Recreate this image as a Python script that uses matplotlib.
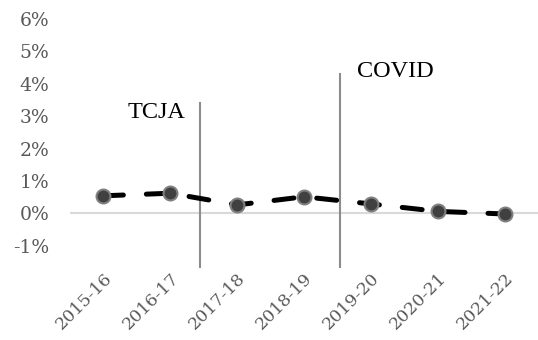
import numpy as np
import matplotlib.pyplot as plt

years = ["2015-16", "2016-17", "2017-18", "2018-19", "2019-20", "2020-21", "2021-22"]
rate = [0.54, 0.62, 0.26, 0.51, 0.29, 0.06, -0.02]
y_ticks = [-1, 0, 1, 2, 3, 4, 5, 6]

# event markers: (label, x position between categories, top of line, label position)
events = [("TCJA", 1.45, 3.41, (0.36, 2.94)),
          ("COVID", 3.54, 4.31, (3.79, 4.21))]

fig = plt.figure(figsize=(5.38, 3.4), dpi=100)
ax = fig.add_axes([0.13, 0.2106, 0.87, 0.7624])

x = np.arange(len(years))
ax.axhline(0, color="#d9d9d9", lw=1.5, zorder=1)
ax.plot(x, rate, color="black", lw=3.6, linestyle=(0, (4.0, 4.6)),
        dash_capstyle="round", solid_capstyle="round", zorder=3)
ax.plot(x, rate, linestyle="none", marker="o", markersize=10,
        markerfacecolor="#404040", markeredgecolor="#7f7f7f",
        markeredgewidth=1.5, zorder=4)

for label, xpos, top, (tx, ty) in events:
    ax.plot([xpos, xpos], [-1.66, top], color="#8c8c8c", lw=1.5,
            clip_on=False, zorder=2)
    ax.text(tx, ty, label, fontsize=17.5, family="Liberation Serif",
            color="black", ha="left", va="baseline")

ax.set_xlim(-0.5, len(years) - 0.5)
ax.set_ylim(-1.7, 6.3)
ax.set_yticks(y_ticks)
ax.set_yticklabels([f"{v}%" for v in y_ticks], family="DejaVu Serif",
                   fontsize=13.5, color="#595959")
ax.set_xticks(x)
ax.set_xticklabels(years, rotation=45, ha="right", rotation_mode="anchor",
                   family="DejaVu Serif", fontsize=12.5, color="#595959")
ax.tick_params(length=0)
ax.tick_params(axis="y", pad=15)
ax.tick_params(axis="x", pad=1)
for s in ax.spines.values():
    s.set_visible(False)

fig.savefig("out.png", dpi=100)
